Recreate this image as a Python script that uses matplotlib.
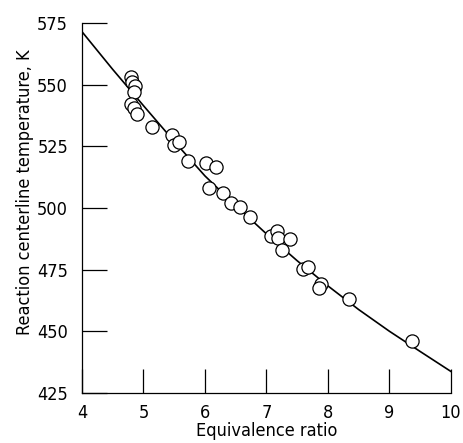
import matplotlib
matplotlib.use("Agg")
import matplotlib.pyplot as plt
import numpy as np

plt.rcParams['font.family'] = ['DejaVu Sans']
plt.rcParams['font.stretch'] = 'condensed'

# measured points
phi = np.array([4.80, 4.82, 4.87, 4.85, 4.80, 4.85, 4.90, 5.14, 5.46, 5.49, 5.57,
                5.73, 6.02, 6.18, 6.06, 6.29, 6.42, 6.57, 6.74, 7.07, 7.17, 7.19,
                7.38, 7.25, 7.60, 7.67, 7.89, 7.86, 8.35, 9.37])
temp = np.array([553.0, 551.0, 549.5, 547.0, 542.2, 540.4, 538.2, 533.0, 529.4, 525.6, 526.8,
                 519.0, 518.4, 516.8, 508.0, 506.2, 502.2, 500.3, 496.5, 488.6, 490.5, 488.0,
                 487.6, 482.8, 475.2, 475.9, 469.3, 467.6, 463.2, 446.0])

# fitted curve
curve_phi = np.array([4.0, 4.5, 5.0, 5.5, 6.0, 6.5, 7.0, 7.5, 8.0, 8.5, 9.0, 9.5, 10.0])
curve_temp = np.array([571.5, 556.2, 541.5, 527.0, 513.0, 501.0, 489.5, 478.6, 468.4, 458.8, 450.0, 441.8, 433.7])

fig = plt.figure(figsize=(4.63, 4.43), dpi=100)
ax = fig.add_axes([0.177, 0.113, 0.797, 0.835])

ax.plot(curve_phi, curve_temp, color='black', lw=1.2)
ax.plot(phi, temp, 'o', mfc='white', mec='black', ms=9.5, mew=0.9)

ax.set_xlim(4, 10)
ax.set_ylim(425, 575)
ax.set_xticks([4, 5, 6, 7, 8, 9, 10])
ax.set_yticks([425, 450, 475, 500, 525, 550, 575])
ax.tick_params(axis='x', direction='in', length=17, width=0.9, labelsize=13, pad=8)
ax.tick_params(axis='y', direction='in', length=18, width=0.9, labelsize=13, pad=10)
for s in ['top', 'right']:
    ax.spines[s].set_visible(False)
for s in ['left', 'bottom']:
    ax.spines[s].set_linewidth(0.9)

ax.set_xlabel("Equivalence ratio", fontsize=13, labelpad=0)
ax.set_ylabel("Reaction centerline temperature, K", fontsize=13)
ax.yaxis.set_label_coords(-0.13, 0.543)

fig.savefig("out.png", dpi=100)
